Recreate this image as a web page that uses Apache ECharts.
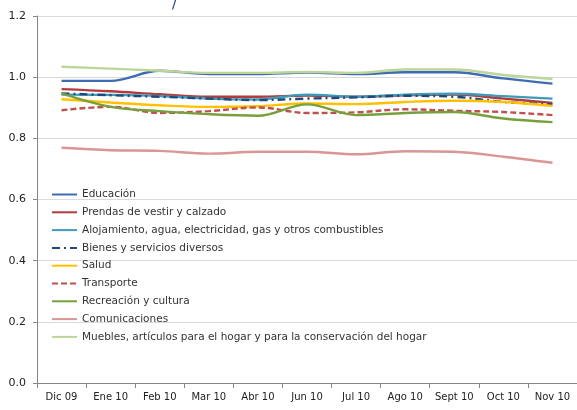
<!DOCTYPE html>
<html>
<head>
<meta charset="utf-8">
<script src="https://cdn.jsdelivr.net/npm/echarts@6/dist/echarts.min.js"></script>
<style>
    html, body { margin: 0; padding: 0; background: #fff; }
    #chart { width: 577px; height: 410px; }
</style>
</head>
<body>
<div id="chart"></div>
<script>
    var meses = ['Dic 09', 'Ene 10', 'Feb 10', 'Mar 10', 'Abr 10', 'Jun 10', 'Jul 10', 'Ago 10', 'Sept 10', 'Oct 10', 'Nov 10'];

    var educacion      = [0.988, 0.988, 1.021, 1.010, 1.010, 1.015, 1.010, 1.016, 1.016, 0.996, 0.979];
    var prendas        = [0.961, 0.954, 0.944, 0.936, 0.936, 0.940, 0.936, 0.941, 0.943, 0.930, 0.916];
    var alojamiento    = [0.943, 0.942, 0.938, 0.930, 0.927, 0.943, 0.936, 0.943, 0.946, 0.938, 0.930];
    var bienes         = [0.947, 0.941, 0.936, 0.930, 0.925, 0.930, 0.934, 0.939, 0.936, 0.919, 0.911];
    var salud          = [0.928, 0.917, 0.908, 0.903, 0.905, 0.914, 0.912, 0.919, 0.923, 0.919, 0.906];
    var transporte     = [0.892, 0.903, 0.883, 0.889, 0.901, 0.883, 0.885, 0.895, 0.890, 0.886, 0.876];
    var recreacion     = [0.947, 0.903, 0.889, 0.879, 0.874, 0.911, 0.876, 0.883, 0.886, 0.865, 0.853];
    var comunicaciones = [0.769, 0.761, 0.759, 0.750, 0.756, 0.756, 0.748, 0.758, 0.756, 0.740, 0.720];
    var muebles        = [1.034, 1.028, 1.021, 1.014, 1.014, 1.017, 1.014, 1.025, 1.025, 1.007, 0.994];

    var fuente = 'DejaVu Sans';

    function serie(nombre, datos, color, tipo) {
        return {
            name: nombre,
            type: 'line',
            smooth: 0.35,
            symbol: 'none',
            data: datos,
            lineStyle: { color: color, width: 2.4, type: tipo || 'solid' },
            itemStyle: { color: color }
        };
    }

    var chart = echarts.init(document.getElementById('chart'));
    chart.setOption({
        animation: false,
        textStyle: { fontFamily: fuente },
        grid: { left: 37, right: -2, top: 16, bottom: 27 },
        graphic: [
            // resto del título, recortado arriba
            { type: 'text', left: 172, top: -3, style: { text: '/', font: '14px ' + fuente, fill: '#2b3a8c' } }
        ],
        legend: {
            orient: 'vertical',
            left: 46,
            top: 184,
            itemWidth: 25,
            itemHeight: 10,
            itemGap: 6.8,
            itemStyle: { opacity: 0 },
            textStyle: { fontFamily: fuente, fontSize: 10.5, color: '#333' },
            data: ['Educación', 'Prendas de vestir y calzado', 'Alojamiento, agua, electricidad, gas y otros combustibles',
                'Bienes y servicios diversos', 'Salud', 'Transporte', 'Recreación y cultura', 'Comunicaciones',
                'Muebles, artículos para el hogar y para la conservación del hogar']
        },
        xAxis: {
            type: 'category',
            data: meses,
            boundaryGap: true,
            axisLine: { lineStyle: { color: '#868686' } },
            axisTick: { show: true, length: 5, lineStyle: { color: '#868686' } },
            axisLabel: { color: '#222', fontSize: 10, fontFamily: fuente, margin: 9, interval: 0 }
        },
        yAxis: {
            type: 'value',
            min: 0,
            max: 1.2,
            interval: 0.2,
            axisLine: { show: true, lineStyle: { color: '#868686' } },
            axisTick: { show: true, length: 4, lineStyle: { color: '#868686' } },
            axisLabel: {
                color: '#222', fontSize: 11, fontFamily: fuente, margin: 11,
                formatter: function (v) { return v.toFixed(1); }
            },
            splitLine: { lineStyle: { color: '#dadada' } }
        },
        series: [
            serie('Educación', educacion, '#3f6db4'),
            serie('Prendas de vestir y calzado', prendas, '#b23b3b'),
            serie('Alojamiento, agua, electricidad, gas y otros combustibles', alojamiento, '#3f9cb8'),
            serie('Bienes y servicios diversos', bienes, '#1f497d', [8, 4, 2, 4]),
            serie('Salud', salud, '#ffc000'),
            serie('Transporte', transporte, '#c0504d', [6, 3]),
            serie('Recreación y cultura', recreacion, '#77a03c'),
            serie('Comunicaciones', comunicaciones, '#d99694'),
            serie('Muebles, artículos para el hogar y para la conservación del hogar', muebles, '#bcd59a')
        ]
    });
</script>
</body>
</html>
